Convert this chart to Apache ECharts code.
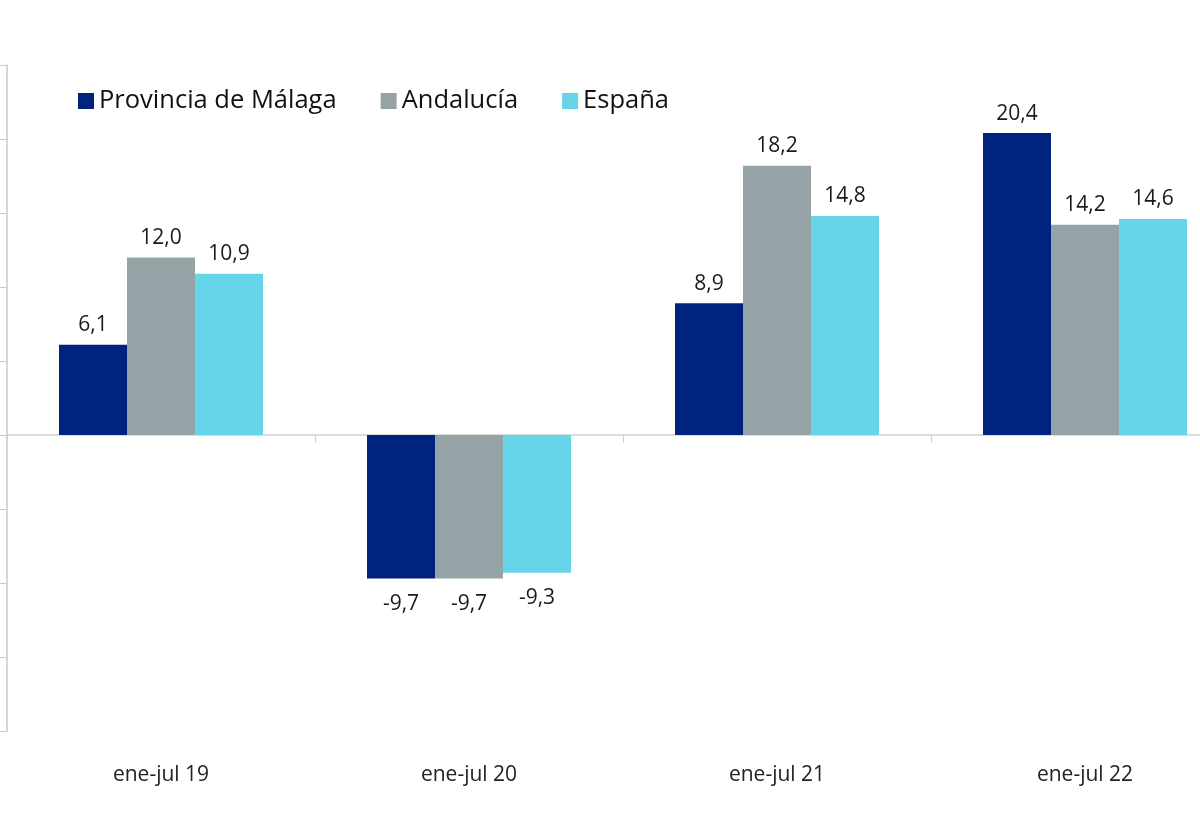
<!DOCTYPE html>
<html><head><meta charset="utf-8">
<script src="https://cdn.jsdelivr.net/npm/echarts@6/dist/echarts.min.js"></script>
<style>html,body{margin:0;padding:0;background:#fff}#c{width:1200px;height:832px}</style>
</head><body><div id="c"></div>
<script>
const categories = ['ene-jul 19', 'ene-jul 20', 'ene-jul 21', 'ene-jul 22'];
const seriesNames = ['Provincia de Málaga', 'Andalucía', 'España'];
const malaga = [6.1, -9.7, 8.9, 20.4];
const andalucia = [12.0, -9.7, 18.2, 14.2];
const espana = [10.9, -9.3, 14.8, 14.6];
const colors = ['#00237f', '#95a3a6', '#66d5e9'];

const fmt = v => v.toFixed(1).replace('.', ',');
const FONT = 'Open Sans';

function mkSeries(name, vals, color) {
  return {
    name: name, type: 'bar', barWidth: 68, barGap: '0%',
    itemStyle: { color: color },
    data: vals.map(v => ({ value: v, label: { distance: v < 0 ? 15 : 9 } })),
    label: {
      show: true, position: 'outside',
      formatter: p => fmt(p.value),
      fontFamily: FONT, fontSize: 21, color: '#1a1a1a'
    }
  };
}

const chart = echarts.init(document.getElementById('c'));
chart.setOption({
  animation: false,
  legend: {
    left: 78, top: 88, padding: 0, itemWidth: 16, itemHeight: 16, itemGap: 44,
    icon: 'rect',
    textStyle: { fontFamily: FONT, fontSize: 25.5, color: '#111' },
    data: seriesNames
  },
  grid: { left: 7, width: 1232, top: 65, bottom: 101, containLabel: false, outerBoundsMode: 'none' },
  xAxis: [
    {
      type: 'category', data: categories,
      axisLine: { onZero: true, lineStyle: { color: '#d0d0d0', width: 1.5 } },
      axisTick: { show: true, length: 8, lineStyle: { color: '#d0d0d0' } },
      axisLabel: { show: false }
    },
    {
      type: 'category', data: categories, position: 'bottom',
      axisLine: { show: false, onZero: false }, axisTick: { show: false },
      axisLabel: { show: true, margin: 34, fontFamily: FONT, fontSize: 21, color: '#222' }
    }
  ],
  yAxis: {
    type: 'value', min: -20, max: 25, interval: 5,
    axisLine: { show: true, lineStyle: { color: '#c8c8c8', width: 1.5 } },
    axisTick: { show: true, length: 7, lineStyle: { color: '#c8c8c8' } },
    axisLabel: { show: false },
    splitLine: { show: false }
  },
  series: [
    mkSeries(seriesNames[0], malaga, colors[0]),
    mkSeries(seriesNames[1], andalucia, colors[1]),
    mkSeries(seriesNames[2], espana, colors[2])
  ]
});
</script></body></html>
